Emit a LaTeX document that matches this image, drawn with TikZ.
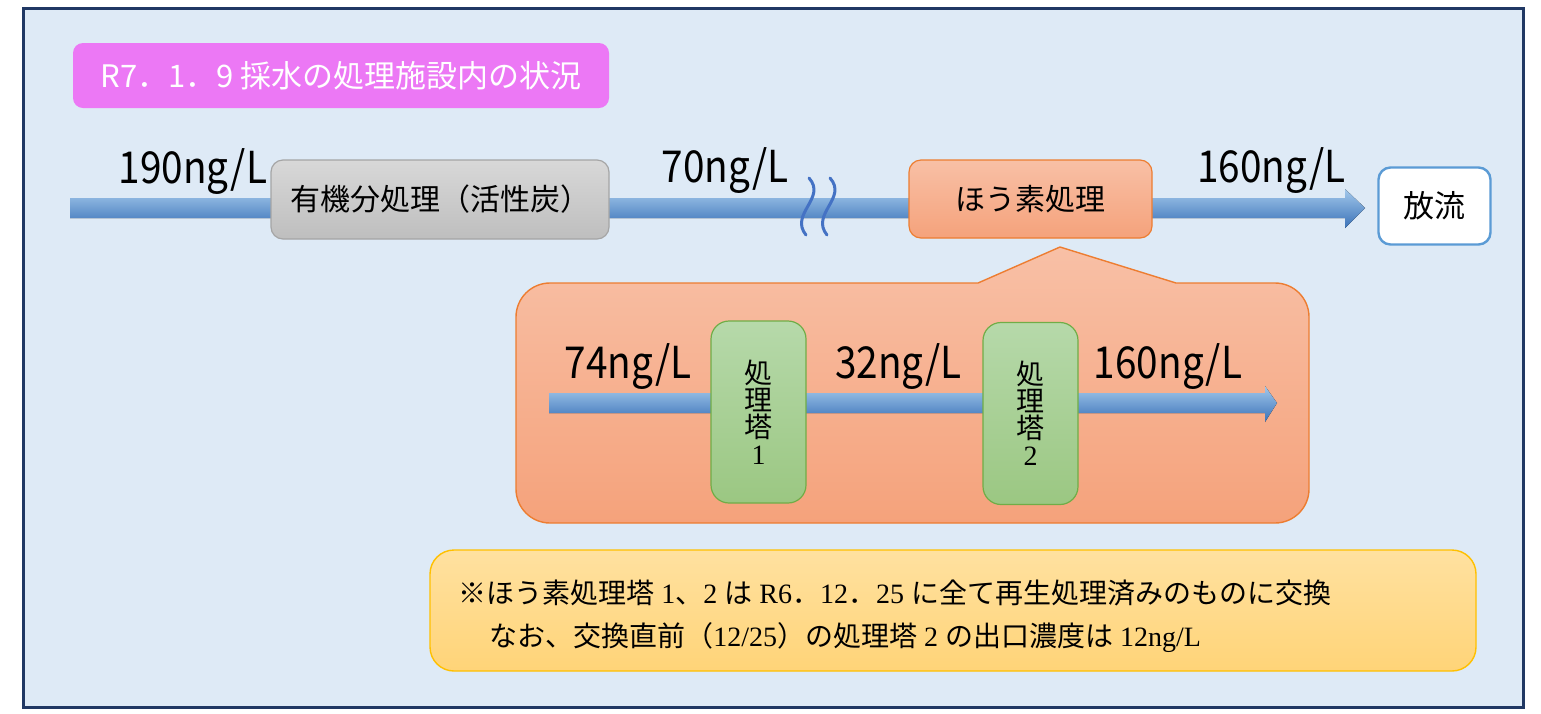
\documentclass[tikz,border=0pt]{standalone}
\usepackage{fontspec}
\setmainfont{Liberation Serif}
\newfontfamily\jp{Noto Sans CJK JP}
\newfontfamily\jpn[FakeStretch=0.88]{Noto Sans CJK JP}
\definecolor{bgblue}{HTML}{DEEAF6}
\definecolor{navy}{HTML}{203864}
\definecolor{magentaF}{HTML}{EC78F5}
\definecolor{grayT}{HTML}{D8D8D8}
\definecolor{grayB}{HTML}{BEBEBE}
\definecolor{grayL}{HTML}{A5A5A5}
\definecolor{oraT}{HTML}{F8C0A6}
\definecolor{oraB}{HTML}{F5A27B}
\definecolor{oraL}{HTML}{ED7D31}
\definecolor{grnT}{HTML}{B6D9AA}
\definecolor{grnB}{HTML}{9BC782}
\definecolor{grnL}{HTML}{70AD47}
\definecolor{yelT}{HTML}{FFE1A0}
\definecolor{yelB}{HTML}{FFD478}
\definecolor{yelL}{HTML}{FFC000}
\definecolor{arrT}{HTML}{A3C8EB}
\definecolor{arrB}{HTML}{3A72B8}
\definecolor{waveC}{HTML}{4472C4}
\definecolor{outL}{HTML}{5B9BD5}
\begin{document}
\begin{tikzpicture}[x=0.5pt,y=-0.5pt,
  titlebox/.style={fill=magentaF, rounded corners=5pt, minimum width=268pt, minimum height=32.5pt,
     text=white, font=\jp\fontsize{15.5}{18}\selectfont, inner sep=0},
  procbox/.style={draw=grayL, line width=0.6pt, top color=grayT, bottom color=grayB, rounded corners=6pt,
     minimum width=169pt, minimum height=39.5pt, font=\jp\fontsize{15}{18}\selectfont, inner sep=0},
  borbox/.style={draw=oraL, line width=0.6pt, top color=oraT, bottom color=oraB, rounded corners=6pt,
     minimum width=121.5pt, minimum height=39pt, font=\jp\fontsize{15}{18}\selectfont, inner sep=0},
  outbox/.style={draw=outL, line width=1.2pt, fill=white, rounded corners=6pt,
     minimum width=56pt, minimum height=38.5pt, font=\jp\fontsize{15.5}{18}\selectfont, inner sep=0},
  tower/.style={draw=grnL, line width=0.6pt, top color=grnT, bottom color=grnB, rounded corners=9pt,
     minimum width=47.5pt, minimum height=91pt, align=center, inner sep=0,
     font=\jp\fontsize{14}{13.5}\selectfont},
  notebox/.style={draw=yelL, line width=0.7pt, top color=yelT, bottom color=yelB, rounded corners=12pt,
     minimum width=523pt, minimum height=60.5pt, inner sep=0},
  notetxt/.style={font=\fontsize{14}{16}\selectfont, inner sep=0, anchor=west},
  lbl/.style={font=\jpn\fontsize{22}{26}\selectfont, inner sep=0, anchor=base},
  flow/.style={top color=arrT, bottom color=arrB, draw=none},
  wave/.style={draw=waveC, line width=1.5pt, line cap=round}
]
\useasboundingbox (0,0) rectangle (1541,713);
\fill[white] (0,0) rectangle (1541,713);
\draw[navy, line width=1.5pt, fill=bgblue] (23,8) rectangle (1523,707);

% title
\node[titlebox] (title) at (341,75.5) {R7．1．9 採水の処理施設内の状況};

% main flow arrow
\coordinate (src) at (70,208);
\coordinate (tip) at (1365,208);
\fill[flow] (70,198) -- (1345,198) -- (1345,189) -- (tip) -- (1345,228) -- (1345,218) -- (70,218) -- cycle;

% wave break marks
\draw[wave] (809,178) .. controls (827,198) and (789,214) .. (806,235);
\draw[wave] (830,178) .. controls (848,198) and (810,214) .. (827,235);

% boxes on main line
\node[procbox] (act) at (440,199.5) {有機分処理（活性炭）};
\node[borbox] (boron) at (1030.5,199) {ほう素処理};
\node[outbox] (out) at (1434.5,206) {放流};

% labels
\node[lbl] (c190) at (193,183) {190ng/L};
\node[lbl] (c70) at (725,182) {70ng/L};
\node[lbl] (c160) at (1271.5,182) {160ng/L};

% callout
\path[top color=oraT, bottom color=oraB, draw=oraL, line width=0.7pt]
  (516,400) [rounded corners=17pt] -- (516,283) [sharp corners] -- (978,283) -- (1060,247) -- (1176,283)
  [rounded corners=17pt] -- (1309,283) -- (1309,523) -- (516,523) -- cycle;

% inner flow arrow
\coordinate (isrc) at (549,403);
\coordinate (itip) at (1277,403);
\fill[flow] (549,393) -- (1265,393) -- (1265,386) -- (itip) -- (1265,422) -- (1265,413) -- (549,413) -- cycle;

% towers
\node[tower] (t1) at (758.5,412) {処\\理\\塔\\{\rmfamily 1}};
\node[tower] (t2) at (1030.5,413.5) {処\\理\\塔\\{\rmfamily 2}};

% inner labels
\node[lbl] (c74) at (628,378) {74ng/L};
\node[lbl] (c32) at (898.5,378) {32ng/L};
\node[lbl] (c160b) at (1168,378) {160ng/L};

% note
\node[notebox] (note) at (953,610.5) {};
\node[notetxt] (n1) at (458,593) {{\jp ※ほう素処理塔} 1{\jp 、}2 {\jp は} R6{\jp ．}12{\jp ．}25 {\jp に全て再生処理済みのものに交換}};
\node[notetxt] (n2) at (489,638) {{\jp なお、交換直前（}12/25{\jp ）の処理塔} 2 {\jp の出口濃度は} 12ng/L};
\end{tikzpicture}
\end{document}
